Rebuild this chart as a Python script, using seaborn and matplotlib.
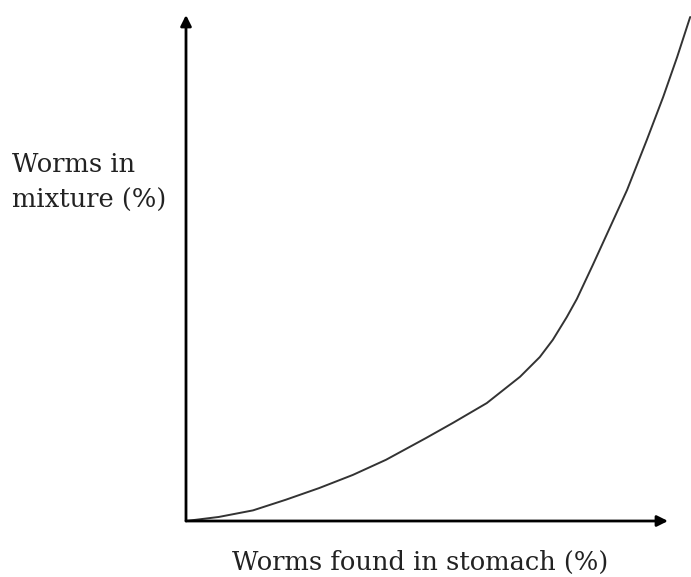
import matplotlib
matplotlib.use("Agg")
import matplotlib.pyplot as plt
import seaborn as sns
import pandas as pd

# values, both axes as % of the axis length
stomach_pct = [0, 6.8, 13.9, 20.7, 27.6, 34.6, 41.5, 49.8, 55.4, 62.4, 69.3,
               73.4, 76.1, 79.0, 81.1, 84.4, 88.0, 91.5, 95.6, 99.0, 101.9,
               104.6]
mixture_pct = [0, 0.8, 2.1, 4.2, 6.5, 9.1, 12.1, 16.4, 19.4, 23.3, 28.5,
               32.4, 35.8, 40.3, 43.9, 50.6, 58.1, 65.4, 75.3, 83.8, 91.7,
               99.6]

x_label = "Worms found in stomach (%)"
y_label = "Worms in\nmixture (%)"

df = pd.DataFrame({"stomach": stomach_pct, "mixture": mixture_pct})

sns.set_style("white")
plt.rcParams["font.family"] = ["DejaVu Serif"]

W, H = 691, 577
fig = plt.figure(figsize=(W / 100, H / 100), dpi=100)
ax = fig.add_axes([186 / W, 56 / H, 482 / W, 506 / H])

sns.lineplot(data=df, x="stomach", y="mixture", ax=ax, color="#333333",
             linewidth=1.4, sort=False, clip_on=False)

ax.set_xlim(0, 100)
ax.set_ylim(0, 100)
ax.set_xticks([])
ax.set_yticks([])
ax.set_xlabel("")
ax.set_ylabel("")
for s in ax.spines.values():
    s.set_visible(False)

# axis lines with arrow heads
arrow = dict(arrowstyle="-|>", color="black", lw=2, mutation_scale=16,
             shrinkA=0, shrinkB=0)
ax.annotate("", xy=(1, 0), xytext=(0, 0), xycoords="axes fraction",
            arrowprops=arrow, annotation_clip=False)
ax.annotate("", xy=(0, 1), xytext=(0, 0), xycoords="axes fraction",
            arrowprops=arrow, annotation_clip=False)

fig.text(420 / W, 1 - 570 / H, x_label, ha="center", va="baseline",
         fontsize=18.5, color="#222222")
fig.text(12 / W, 1 - 208 / H, y_label, ha="left", va="baseline",
         fontsize=18.5, color="#222222", linespacing=1.55)

fig.savefig("out.png", dpi=100)
